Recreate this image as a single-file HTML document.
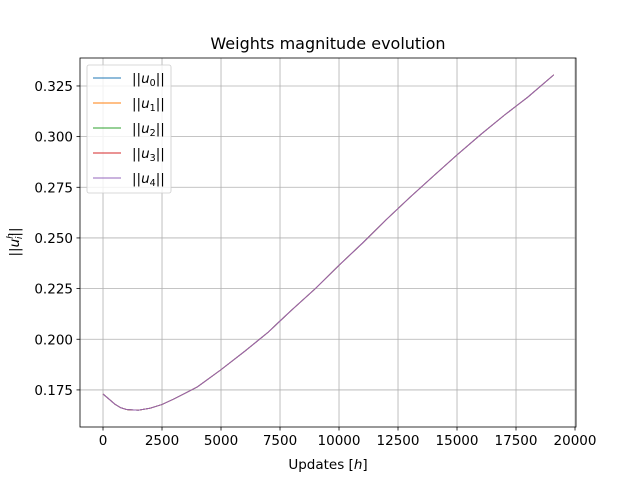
<!DOCTYPE html>
<html><head><meta charset="utf-8"><style>
body{margin:0;background:#fff}
text{font-family:"DejaVu Sans","Liberation Sans",sans-serif;fill:#000}
</style></head><body>
<svg id="chart" width="640" height="480" xmlns="http://www.w3.org/2000/svg">
<rect width="640" height="480" fill="#fff"/>
<g id="grid"></g><g id="series"></g><g id="axes"></g>
<text x="328" y="49" font-size="16" text-anchor="middle">Weights magnitude evolution</text>
<text x="328" y="469" font-size="13.5" text-anchor="middle">Updates [<tspan font-style="italic">h</tspan>]</text>
<text transform="translate(19,242) rotate(-90)" font-size="13.5" text-anchor="middle">||<tspan font-style="italic">u</tspan><tspan font-size="9" dy="-6" font-style="italic">h</tspan><tspan font-size="9" dy="9" dx="-6" font-style="italic">i</tspan><tspan dy="-3">||</tspan></text>
<g id="legend"></g>
</svg>
<script>
const xTicks=[0,2500,5000,7500,10000,12500,15000,17500,20000];
const yTicks=[0.175,0.2,0.225,0.25,0.275,0.3,0.325];
const seriesNames=["u0","u1","u2","u3","u4"];
const seriesColors=["#1f77b4","#ff7f0e","#2ca02c","#d62728","#9467bd"];
const updates=[0,250,500,750,1000,1500,2000,2500,3000,3500,4000,5000,6000,7000,7500,8000,9000,10000,11000,12000,12500,13000,14000,15000,16000,17000,17500,18000,19100];
const magnitude=[0.173,0.1705,0.168,0.1662,0.1653,0.165,0.166,0.1678,0.1705,0.1735,0.1765,0.185,0.194,0.2035,0.209,0.2145,0.225,0.2365,0.2475,0.259,0.2645,0.27,0.2805,0.291,0.301,0.3105,0.315,0.3195,0.3305];
const L=80,R=576,T=58,B=427;
const xMin=-975,xMax=20042,yMin=0.1567,yMax=0.3388;
const X=v=>L+(v-xMin)/(xMax-xMin)*(R-L);
const Y=v=>B-(v-yMin)/(yMax-yMin)*(B-T);
const NS="http://www.w3.org/2000/svg";
function mk(tag,attrs,parent){const e=document.createElementNS(NS,tag);for(const k in attrs)e.setAttribute(k,attrs[k]);parent.appendChild(e);return e;}
const grid=document.getElementById('grid'),axes=document.getElementById('axes'),ser=document.getElementById('series'),leg=document.getElementById('legend');
xTicks.forEach(t=>{const x=X(t);
 const g=mk('line',{x1:x,x2:x,y1:T,y2:B,stroke:'#b0b0b0','stroke-width':0.8},grid);
 
 
 mk('line',{x1:x,x2:x,y1:B,y2:B+3.5,stroke:'#000','stroke-width':0.8},axes);
 const tx=mk('text',{x:x,y:B+18,'font-size':13.5,'text-anchor':'middle'},axes);tx.textContent=t;
 
 
});
yTicks.forEach(t=>{const y=Y(t);
 const g=mk('line',{x1:L,x2:R,y1:y,y2:y,stroke:'#b0b0b0','stroke-width':0.8},grid);
 
 
 mk('line',{x1:L-3.5,x2:L,y1:y,y2:y,stroke:'#000','stroke-width':0.8},axes);
 const tx=mk('text',{x:L-7,y:y+5,'font-size':13.5,'text-anchor':'end'},axes);tx.textContent=t.toFixed(3);
 
 
});
const frame=mk('rect',{x:L,y:T,width:R-L,height:B-T,fill:'none',stroke:'#000','stroke-width':0.8},axes);


const pts=updates.map((u,i)=>X(u).toFixed(1)+','+Y(magnitude[i]).toFixed(1)).join(' ');
seriesNames.forEach((n,i)=>{
 const p=mk('polyline',{points:pts,fill:'none',stroke:seriesColors[i],'stroke-width':0.9},ser);
 
 
});
const lb=mk('rect',{x:87,y:65,width:84,height:128,rx:2,fill:'#fff','fill-opacity':0.8,stroke:'#ccc','stroke-width':0.8},leg);


seriesNames.forEach((n,i)=>{const y=78+i*25;
 const l=mk('line',{x1:93,x2:121,y1:y,y2:y,stroke:seriesColors[i],'stroke-width':0.9},leg);
 
 
 const t=mk('text',{x:132,y:y+5,'font-size':13.5},leg);
 t.innerHTML='||<tspan font-style="italic">u</tspan><tspan font-size="9.5" dy="3">'+i+'</tspan><tspan dy="-3">||</tspan>';
 
 
});
</script>
</body></html>
